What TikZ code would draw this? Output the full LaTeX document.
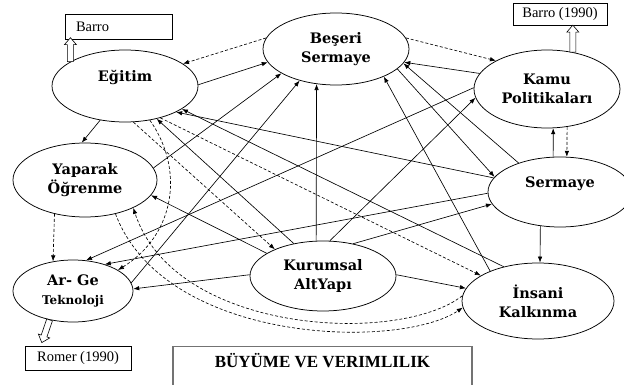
\documentclass[tikz,border=0pt]{standalone}
\usepackage{fontspec}
\setmainfont{Liberation Serif}
\newfontfamily\nodefont{DejaVu Serif}
\usetikzlibrary{arrows.meta,shapes.geometric}
\begin{document}
\begin{tikzpicture}[x=1pt,y=-1pt,
  ell/.style={ellipse,draw,line width=0.75pt,inner sep=0pt,align=center,
    font=\nodefont\bfseries\fontsize{14.5}{19}\selectfont},
  refbox/.style={draw,line width=0.6pt,inner sep=0pt,font=\fontsize{14.5}{16}\selectfont},
  link/.style={line width=0.65pt,-{Latex[length=6pt,width=4.5pt]}},
  dlink/.style={link,dash pattern=on 3pt off 2pt},
  pics/hollowup/.style={code={
    \draw[line width=0.6pt,fill=white] (-3,0) -- (-3,-#1+7) -- (-6,-#1+7) -- (0,-#1)
      -- (6,-#1+7) -- (3,-#1+7) -- (3,0) -- cycle;}}
]
\useasboundingbox (0,0) rectangle (624,385);
\clip (0,0) rectangle (624,385);

% ellipses
\node[ell,minimum width=146pt,minimum height=72pt,text depth=20pt] (egitim) at (125,86) {Eğitim};
\node[ell,minimum width=146pt,minimum height=72pt] (beseri) at (336,49) {Beşeri\\Sermaye};
\node[ell,minimum width=146pt,minimum height=78pt] (kamu) at (547,89) {Kamu\\Politikaları};
\node[ell,minimum width=144pt,minimum height=74pt] (yaparak) at (85,180) {Yaparak\\Öğrenme};
\node[ell,minimum width=144pt,minimum height=70pt,text depth=20pt] (sermaye) at (560,192) {Sermaye};
\node[ell,minimum width=120pt,minimum height=62pt] (arge) at (73,291) {Ar- Ge\\{\fontsize{12}{14}\selectfont Teknoloji}};
\node[ell,minimum width=146pt,minimum height=70pt] (kurumsal) at (323,276) {Kurumsal\\AltYapı};
\node[ell,minimum width=152pt,minimum height=76pt] (insani) at (538,301) {İnsani\\Kalkınma};

% reference boxes
\node[refbox,minimum width=107pt,minimum height=25pt,text width=85pt,inner xsep=11pt,align=left] (barro) at (118.5,26.5) {Barro};
\node[refbox,minimum width=94pt,minimum height=22pt] (barro90) at (560,14) {Barro (1990)};
\node[refbox,minimum width=106pt,minimum height=24pt] (romer) at (78,358) {Romer (1990)};
\node[draw=black!55,line width=1.3pt,anchor=north,minimum width=299pt,inner ysep=4pt,
  text height=17pt,text depth=25pt,font=\bfseries\fontsize{17}{19}\selectfont] (buyume) at (322.5,346) {BÜYÜME VE VERIMLILIK};

% hollow arrows
\pic at (egitim.156) {hollowup=24};
\pic at (kamu.55) {hollowup=27};
\pic[rotate=161] at (arge.231) {hollowup=24};

% connectors
\draw[dlink] (beseri.171) -- (egitim.21);
\draw[dlink] (beseri.9) -- (kamu.151);
\draw[link] (egitim.1) -- (beseri.191);
\draw[link] (kamu.167) -- (beseri.-11);
\draw[link] (yaparak.10) -- (beseri.204);
\draw[link] (arge.8) -- (beseri.221);
\draw[link] (kurumsal.101) -- (beseri.241);
\draw[link] (sermaye.145) -- (beseri.-12);
\draw[link] (beseri.-18) -- (sermaye.167);
\draw[link] (insani.148) -- (beseri.-30);
\draw[link] (egitim.234) -- (yaparak.95);
\draw[dlink] (yaparak.228) -- (arge.124);
\draw[link] (sermaye.101) -- (kamu.279);
\draw[dlink] (kamu.298) -- (sermaye.79);
\draw[link] (sermaye.240) -- (insani.87);
\draw[link] (kurumsal.1) -- (insani.170);
\draw[link] (kurumsal.179) -- (arge.2);
\draw[link] (kurumsal.47) -- (sermaye.190);
\draw[link] (kurumsal.79) -- (kamu.187);
\draw[link] (kurumsal.132) -- (egitim.314);
\draw[link] (kurumsal.158) -- (yaparak.347);
\draw[link] (sermaye.181) -- (arge.40);
\draw[link] (kamu.179) -- (arge.67);
\draw[link] (sermaye.168) -- (egitim.333);
\draw[link] (insani.135) -- (egitim.338);
\draw[dlink] (egitim.283) -- (kurumsal.151);
\draw[dlink] (egitim.318) -- (insani.156);
\draw[dlink] (egitim.306) .. controls (185,170) and (175,235) .. (arge.25);
\draw[dlink] (insani.176) .. controls (400,345) and (175,335) .. (yaparak.330);
\draw[dlink] (yaparak.312) .. controls (165,345) and (400,350) .. (insani.185);
\end{tikzpicture}
\end{document}
